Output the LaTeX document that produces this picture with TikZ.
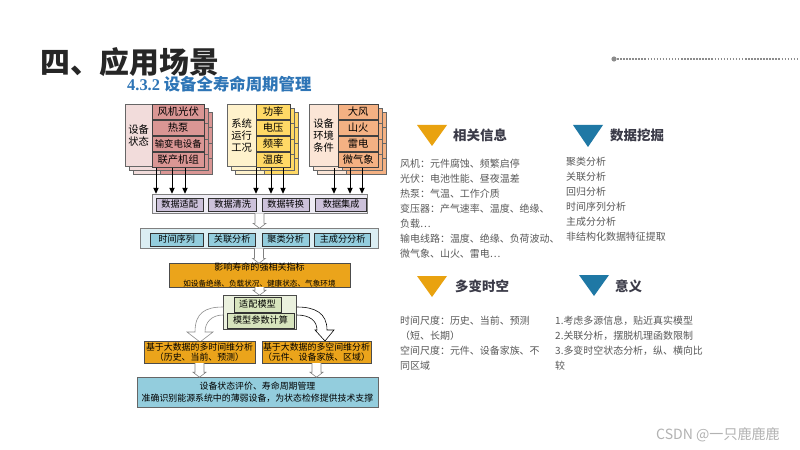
\documentclass[tikz,border=0pt]{standalone}
\usepackage{fontspec}
\setmainfont{Noto Sans CJK SC}
\newfontfamily\numfont{Liberation Serif}
\usetikzlibrary{arrows.meta,positioning,calc}
\newcommand{\pxu}{0.03cm}
\newcommand{\fs}[2]{\fontsize{#1}{#2}\selectfont}
\definecolor{pkL}{HTML}{F2DCDB}
\definecolor{pkD}{HTML}{DA9694}
\definecolor{ylL}{HTML}{FFF2CC}
\definecolor{ylD}{HTML}{FFD966}
\definecolor{peL}{HTML}{FBE5D6}
\definecolor{peD}{HTML}{F4B183}
\definecolor{lavL}{HTML}{EEECF4}
\definecolor{lavD}{HTML}{CCC1DA}
\definecolor{cyL}{HTML}{DBEEF3}
\definecolor{cyD}{HTML}{93CDDD}
\definecolor{orgbox}{HTML}{EBA41B}
\definecolor{grL}{HTML}{EBF1DE}
\definecolor{grD}{HTML}{D7E4BD}
\definecolor{orgT}{HTML}{E9A20F}
\definecolor{bluT}{HTML}{1F78A5}
\definecolor{subblue}{HTML}{2E75B6}
\definecolor{headgray}{HTML}{3B3B48}
\definecolor{bodygray}{HTML}{595959}

\begin{document}
\begin{tikzpicture}[x=0.03cm,y=-0.03cm,
    >={Triangle[length=5pt,width=4.5pt]},
    cell/.style={draw=black!75, line width=0.4pt, inner sep=0pt, minimum height=15.5*\pxu,
                 font=\fs{8.8}{10}},
    side/.style={draw=black!60, line width=0.4pt, inner sep=0pt, minimum height=62*\pxu,
                 align=center, font=\fs{8.8}{10.2}},
    shd/.style={draw=black!60, line width=0.4pt},
    bar/.style={draw=black!50, line width=0.5pt, inner sep=0pt},
    tag/.style={draw=black!80, line width=0.4pt, inner sep=0pt, minimum height=13*\pxu,
                font=\fs{7.8}{9}},
    obox/.style={draw=black!70, fill=orgbox, line width=0.4pt, inner sep=0pt, align=center},
    hol/.style={draw=black!50, fill=white, line width=0.5pt},
    arr/.style={->, line width=0.8pt},
    txt/.style={anchor=north west, inner sep=0pt, align=left, text=bodygray, font=\fs{8.5}{12.75}},
    head/.style={anchor=west, inner sep=0pt, text=headgray, font=\fs{11.5}{13}\bfseries},
    pics/hdown/.style={code={
      \draw[hol] (-4.5,0) -- (-4.5,#1-5) -- (-6.5,#1-5) -- (0,#1) -- (6.5,#1-5) -- (4.5,#1-5) -- (4.5,0);}}]
  \useasboundingbox[fill=white] (0,0) rectangle (800,450);

  % ---- title ----
  \node[anchor=west, inner sep=0pt, text=black!85, font=\fs{25.5}{28}\bfseries] (ttl) at (40,62) {四、应用场景};
  \node[anchor=west, inner sep=0pt, text=subblue, font=\fs{14}{16}\bfseries] (sub) at (127,84)
    {{\numfont 4.3.2} 设备全寿命周期管理};
  \fill[black!45] (614,59) circle (2.6);
  \draw[black!45, line width=1.3pt, dash pattern=on 1.3pt off 1.3pt] (614,59) -- (800,59);

  % ---- source groups (stacked copies behind) ----
  \foreach \o in {8,4} {
    \draw[shd, fill=pkL] (125+\o,104+\o) rectangle ++(27,62);
    \draw[shd, fill=pkD] (152+\o,104+\o) rectangle ++(52,62);
    \foreach \r in {1,2,3} \draw[shd] (152+\o,104+\o+15.5*\r) -- ++(52,0);
    \draw[shd, fill=ylL] (227+\o,104+\o) rectangle ++(29,62);
    \draw[shd, fill=ylD] (256+\o,104+\o) rectangle ++(34,62);
    \foreach \r in {1,2,3} \draw[shd] (256+\o,104+\o+15.5*\r) -- ++(34,0);
    \draw[shd, fill=peL] (309+\o,104+\o) rectangle ++(29,62);
    \draw[shd, fill=peD] (338+\o,104+\o) rectangle ++(40,62);
    \foreach \r in {1,2,3} \draw[shd] (338+\o,104+\o+15.5*\r) -- ++(40,0);
  }
  \node[side, fill=pkL, minimum width=27*\pxu, anchor=north west] (g1l) at (125,104) {设备\\状态};
  \node[cell, fill=pkD, minimum width=52*\pxu, anchor=north west] (g1a) at (152,104) {风机光伏};
  \node[cell, fill=pkD, minimum width=52*\pxu, below=0pt of g1a] (g1b) {热泵};
  \node[cell, fill=pkD, minimum width=52*\pxu, below=0pt of g1b, font=\fs{8}{9}] (g1c) {输变电设备};
  \node[cell, fill=pkD, minimum width=52*\pxu, below=0pt of g1c] (g1d) {联产机组};

  \node[side, fill=ylL, minimum width=29*\pxu, anchor=north west] (g2l) at (227,104) {系统\\运行\\工况};
  \node[cell, fill=ylD, minimum width=34*\pxu, anchor=north west] (g2a) at (256,104) {功率};
  \node[cell, fill=ylD, minimum width=34*\pxu, below=0pt of g2a] (g2b) {电压};
  \node[cell, fill=ylD, minimum width=34*\pxu, below=0pt of g2b] (g2c) {频率};
  \node[cell, fill=ylD, minimum width=34*\pxu, below=0pt of g2c] (g2d) {温度};

  \node[side, fill=peL, minimum width=29*\pxu, anchor=north west] (g3l) at (309,104) {设备\\环境\\条件};
  \node[cell, fill=peD, minimum width=40*\pxu, anchor=north west] (g3a) at (338,104) {大风};
  \node[cell, fill=peD, minimum width=40*\pxu, below=0pt of g3a] (g3b) {山火};
  \node[cell, fill=peD, minimum width=40*\pxu, below=0pt of g3b] (g3c) {雷电};
  \node[cell, fill=peD, minimum width=40*\pxu, below=0pt of g3c] (g3d) {微气象};

  % ---- data processing bar ----
  \node[bar, fill=lavL, minimum width=215*\pxu, minimum height=19*\pxu] (bar1) at (259.5,203.5) {};
  \node[tag, fill=lavD, minimum width=47*\pxu, anchor=west] (d1) at (156,204.5) {数据适配};
  \node[tag, fill=lavD, minimum width=48*\pxu, right=5*\pxu of d1] (d2) {数据清洗};
  \node[tag, fill=lavD, minimum width=47*\pxu, right=5*\pxu of d2] (d3) {数据转换};
  \node[tag, fill=lavD, minimum width=51*\pxu, right=6*\pxu of d3] (d4) {数据集成};

  \foreach \dx in {4,20,33}
    \draw[arr] ([xshift=\dx*\pxu]g1d.south west) -- ([xshift=\dx*\pxu]g1d.south west |- bar1.north);
  \foreach \dx in {0,15,27}
    \draw[arr] ([xshift=\dx*\pxu]g2d.south west) -- ([xshift=\dx*\pxu]g2d.south west |- bar1.north);
  \foreach \dx in {-4,12,24}
    \draw[arr] ([xshift=\dx*\pxu]g3d.south west) -- ([xshift=\dx*\pxu]g3d.south west |- bar1.north);

  % ---- analysis bar ----
  \node[bar, fill=cyL, minimum width=238*\pxu, minimum height=20*\pxu] (bar2) at (259,238) {};
  \node[tag, fill=cyD, minimum width=53*\pxu, anchor=west] (a1) at (150,239.5) {时间序列};
  \node[tag, fill=cyD, minimum width=47*\pxu, right=5*\pxu of a1] (a2) {关联分析};
  \node[tag, fill=cyD, minimum width=47*\pxu, right=6*\pxu of a2] (a3) {聚类分析};
  \node[tag, fill=cyD, minimum width=56*\pxu, right=5*\pxu of a3] (a4) {主成分分析};

  % ---- indicators, model, analyses ----
  \node[obox, minimum width=181*\pxu, minimum height=24*\pxu] (imp) at (259.5,275)
    {\fs{7.7}{9}影响寿命的强相关指标\\[1pt] \fs{6.5}{7.5}如设备绝缘、负载状况、健康状态、气象环境};
  \node[draw=black!70, fill=grL, line width=0.4pt, minimum width=73*\pxu, minimum height=34*\pxu,
        inner sep=0pt] (mdl) at (259.5,312) {};
  \node[draw=black!80, fill=grD, line width=0.4pt, minimum width=47*\pxu, minimum height=15*\pxu,
        inner sep=0pt, font=\fs{7.8}{9}] (fit) at (257.5,304.5) {适配模型};
  \node[draw=black!80, fill=grD, line width=0.4pt, minimum width=67*\pxu, minimum height=15*\pxu,
        inner sep=0pt, font=\fs{7.8}{9}] (par) at (260.5,320.5) {模型参数计算};

  % curved hollow arrows out of the model box
  \draw[hol, draw=black!45] (223,307) .. controls (205,307) and (195,313) .. (195,332) -- (187,332)
    -- (200,342) -- (213,332) -- (205,332) .. controls (205,322) and (212,315) .. (223,315);
  \draw[hol, draw=black] (297,307) .. controls (315,307) and (327,313) .. (327,330) -- (334,330)
    -- (325,341) -- (315,330) -- (317,330) .. controls (317,321) and (310,315) .. (297,315);

  \node[obox, minimum width=111*\pxu, minimum height=22*\pxu, font=\fs{7.6}{8.6}] (ta) at (199.5,352)
    {基于大数据的多时间维分析\\（历史、当前、预测）};
  \node[obox, minimum width=109*\pxu, minimum height=22*\pxu, font=\fs{7.6}{8.6}] (sa) at (316.5,352)
    {基于大数据的多空间维分析\\（元件、设备家族、区域）};
  \node[draw=black!60, fill=cyD, line width=0.4pt, inner sep=0pt, align=center,
        minimum width=241*\pxu, minimum height=30*\pxu, font=\fs{7.6}{10}] (fin) at (257.5,392)
    {设备状态评价、寿命周期管理\\准确识别能源系统中的薄弱设备，为状态检修提供技术支撑};

  \pic at (bar1.south) {hdown=15};
  \pic at (bar2.south) {hdown=15};
  \pic at (imp.south) {hdown=8};
  \pic at (ta.south) {hdown=14};
  \pic at (sa.south) {hdown=14};

  % ---- right-hand notes ----
  \fill[orgT] (417,125) -- (447,125) -- (432,146) -- cycle;
  \node[head] (h1) at (453,135) {相关信息};
  \node[txt] (n1) at (400,159) {风机：元件腐蚀、频繁启停\\光伏：电池性能、昼夜温差\\热泵：气温、工作介质\\
    变压器：产气速率、温度、绝缘、\\负载…\\输电线路：温度、绝缘、负荷波动、\\微气象、山火、雷电…};

  \fill[bluT] (573,125) -- (603,125) -- (588,147) -- cycle;
  \node[head] (h2) at (610,135) {数据挖掘};
  \node[txt] (n2) at (566,157) {聚类分析\\关联分析\\回归分析\\时间序列分析\\主成分分析\\非结构化数据特征提取};

  \fill[orgT] (417,276) -- (447,276) -- (432,297) -- cycle;
  \node[head] (h3) at (455,286) {多变时空};
  \node[txt] (n3) at (400,316) {时间尺度：历史、当前、预测\\（短、长期）\\空间尺度：元件、设备家族、不\\同区域};

  \fill[bluT] (579,275) -- (609,275) -- (594,296) -- cycle;
  \node[head] (h4) at (615,286) {意义};
  \node[txt] (n4) at (555,316) {1.考虑多源信息，贴近真实模型\\2.关联分析，摆脱机理函数限制\\
    3.多变时空状态分析，纵、横向比\\较};

  \node[anchor=west, inner sep=0pt, text=black!30, font=\fs{12}{14}] (wm) at (656,435) {CSDN @一只鹿鹿鹿};
\end{tikzpicture}
\end{document}
